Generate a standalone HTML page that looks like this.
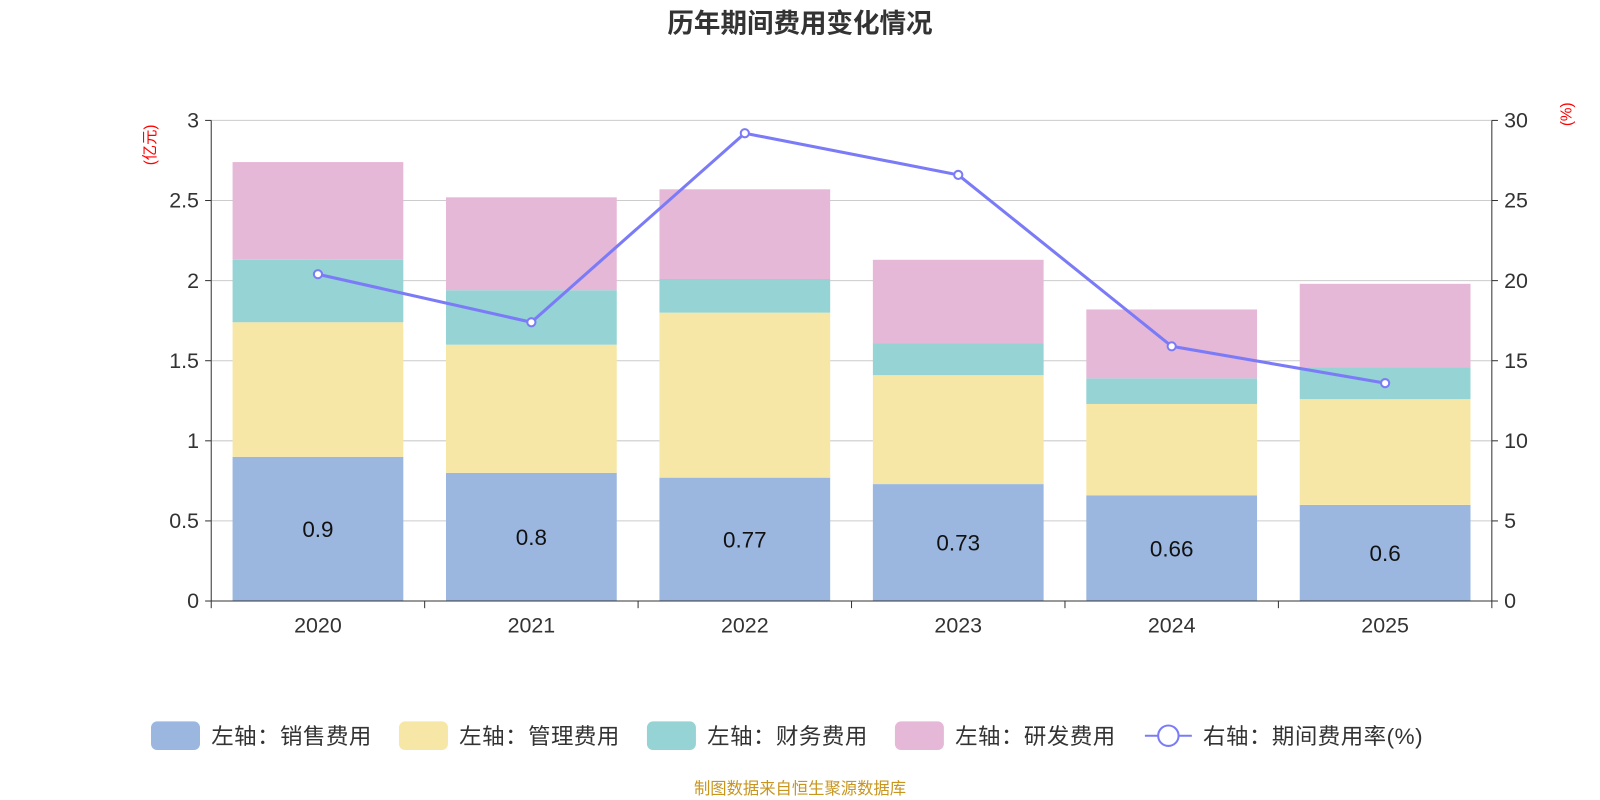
<!DOCTYPE html>
<html><head><meta charset="utf-8"><style>
html,body{margin:0;padding:0;background:#fff;}
svg{display:block;font-family:"Liberation Sans","Noto Sans CJK SC",sans-serif;}
</style></head><body>
<svg id="chart" width="1600" height="800" viewBox="0 0 1568 784" preserveAspectRatio="none">
<text x="784" y="32" text-anchor="middle" font-size="26" font-weight="bold" fill="#333">历年期间费用变化情况</text>
<text transform="translate(152,142) rotate(-90)" text-anchor="middle" font-size="15" fill="red">(亿元)</text>
<text transform="translate(1540,112) rotate(-90)" text-anchor="middle" font-size="15" fill="red">(%)</text>
<g id="grid"></g><g id="bars"></g><g id="axes"></g><g id="line"></g><g id="legend"></g>
<text x="784" y="778" text-anchor="middle" font-size="16" fill="#c8961e">制图数据来自恒生聚源数据库</text>
</svg>
<script>
const years=["2020","2021","2022","2023","2024","2025"];
const sales=[0.9,0.8,0.77,0.73,0.66,0.6];
const mgmt=[0.84,0.80,1.03,0.68,0.57,0.66];
const fin=[0.39,0.34,0.21,0.20,0.16,0.20];
const rnd=[0.61,0.58,0.56,0.52,0.43,0.52];
const rate=[20.4,17.4,29.2,26.6,15.9,13.6];
const leftTicks=["0","0.5","1","1.5","2","2.5","3"];
const rightTicks=["0","5","10","15","20","25","30"];
const NS="http://www.w3.org/2000/svg";
const X0=207,X1=1462,Y0=589,Y1=118;
const band=(X1-X0)/years.length;
const yL=v=>Y0-(v/3)*(Y0-Y1);
const yR=v=>Y0-(v/30)*(Y0-Y1);
const xc=i=>X0+band*(i+0.5);
function mk(tag,attrs,parent){const e=document.createElementNS(NS,tag);for(const k in attrs)e.setAttribute(k,attrs[k]);parent.appendChild(e);return e;}
const grid=document.getElementById('grid'),axes=document.getElementById('axes'),bars=document.getElementById('bars'),line=document.getElementById('line'),legend=document.getElementById('legend');
leftTicks.forEach((t,i)=>{const y=yL(+t);
 const g=mk('line',{x1:X0,x2:X1,y1:y,y2:y,stroke:i==0?'#333':'#ccc','stroke-width':1},grid);
 
 
 mk('line',{x1:X0-6,x2:X0,y1:y,y2:y,stroke:'#333'},axes);
 const lt=mk('text',{x:X0-12,y:y+7,'text-anchor':'end','font-size':21,fill:'#333'},axes);lt.textContent=t;
 
 
});
rightTicks.forEach(t=>{const y=yR(+t);
 mk('line',{x1:X1,x2:X1+6,y1:y,y2:y,stroke:'#333'},axes);
 const rt=mk('text',{x:X1+12,y:y+7,'font-size':21,fill:'#333'},axes);rt.textContent=t;
 
 
});
mk('line',{x1:X0,x2:X0,y1:Y1,y2:Y0,stroke:'#333'},axes);
mk('line',{x1:X1,x2:X1,y1:Y1,y2:Y0,stroke:'#333'},axes);
mk('line',{x1:X0,x2:X1,y1:Y0,y2:Y0,stroke:'#333'},axes);
for(let i=0;i<=years.length;i++){const x=X0+band*i;mk('line',{x1:x,x2:x,y1:Y0,y2:Y0+7,stroke:'#333'},axes);}
years.forEach((yr,i)=>{const t=mk('text',{x:xc(i),y:620,'text-anchor':'middle','font-size':21,fill:'#333'},axes);t.textContent=yr;
 
 });
const series=[[sales,'#9bb7e0','sales'],[mgmt,'#f7e7a6','mgmt'],[fin,'#95d3d4','finance'],[rnd,'#e6b8d8','rnd']];
const bw=band*0.8;
years.forEach((yr,i)=>{let acc=0;
 series.forEach(([arr,c,n])=>{const y0=yL(acc),y1=yL(acc+arr[i]);acc+=arr[i];
  const r=mk('rect',{x:xc(i)-bw/2,y:y1,width:bw,height:y0-y1,fill:c},bars);
  
  
 });
 const lb=mk('text',{x:xc(i),y:(yL(0)+yL(sales[i]))/2+8,'text-anchor':'middle','font-size':22,fill:'#111'},bars);lb.textContent=sales[i];
 
 
});
const pl=mk('polyline',{points:rate.map((v,i)=>xc(i)+','+yR(v)).join(' '),fill:'none',stroke:'#7b7bf7','stroke-width':3},line);


rate.forEach((v,i)=>{const c=mk('circle',{cx:xc(i),cy:yR(v),r:4,fill:'#fff',stroke:'#7b7bf7','stroke-width':2},line);
 
 });
const legItems=[['左轴：销售费用','#9bb7e0',148],['左轴：管理费用','#f7e7a6',391],['左轴：财务费用','#95d3d4',634],['左轴：研发费用','#e6b8d8',877]];
legItems.forEach(([t,c,x])=>{
 const g=mk('g',{},legend);
 
 
 mk('rect',{x:x,y:707,width:48,height:28,rx:6,fill:c},g);
 const tx=mk('text',{x:x+59,y:729,'font-size':22,'letter-spacing':0.5,fill:'#333'},g);tx.textContent=t;
});
const g5=mk('g',{},legend);


mk('line',{x1:1122,x2:1168,y1:721,y2:721,stroke:'#7b7bf7','stroke-width':2},g5);
mk('circle',{cx:1145,cy:721,r:10,fill:'#fff',stroke:'#7b7bf7','stroke-width':2},g5);
const t5=mk('text',{x:1179,y:729,'font-size':22,'letter-spacing':0.5,fill:'#333'},g5);t5.textContent='右轴：期间费用率(%)';
</script>
</body></html>
